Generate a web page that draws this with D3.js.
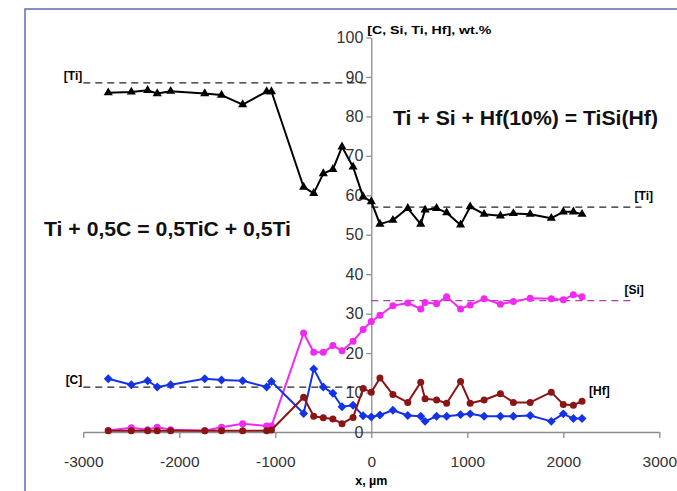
<!DOCTYPE html>
<html>
<head>
<meta charset="utf-8">
<script src="https://cdn.jsdelivr.net/npm/d3@7"></script>
<style>
  html, body { margin: 0; padding: 0; background: #fff; }
  svg { display: block; font-family: "Liberation Sans", Arial, sans-serif; }
</style>
</head>
<body>
<div id="chart"></div>
<script>
// положения точек по оси x, мкм (общие для всех кривых)
const xs = [-2740, -2500, -2330, -2230, -2090, -1735, -1560, -1340, -1090, -1040,
            -705, -600, -500, -400, -305, -190, -85, 0, 90, 225,
            380, 515, 560, 680, 785, 930, 1030, 1175, 1345, 1480,
            1655, 1875, 2000, 2105, 2195];

const tiValues = [86.0, 86.2, 86.6, 85.8, 86.4, 85.8, 85.4, 83.0, 86.3, 86.3,
                  62.1, 60.5, 65.5, 66.6, 72.3, 67.2, 59.6, 58.4, 52.7, 53.7,
                  56.7, 52.7, 56.3, 56.7, 55.6, 52.5, 57.1, 55.2, 54.8, 55.4,
                  55.2, 54.2, 55.8, 55.8, 55.2];

const siValues = [0.4, 1.1, 0.6, 1.2, 0.6, 0.3, 1.2, 2.1, 1.5, 1.5,
                  25.1, 20.2, 20.2, 21.9, 20.6, 23.0, 26.0, 28.0, 29.6, 32.0,
                  32.7, 31.2, 32.8, 32.5, 34.3, 31.2, 32.2, 33.8, 32.4, 33.1,
                  33.9, 33.8, 33.5, 34.8, 34.3];

const cValues = [13.5, 12.0, 13.0, 11.4, 12.0, 13.5, 13.2, 13.0, 11.4, 12.8,
                 4.7, 16.0, 11.4, 9.8, 6.4, 6.8, 4.1, 3.8, 4.3, 5.5,
                 4.2, 4.0, 2.7, 4.0, 4.0, 4.4, 4.6, 4.0, 4.0, 4.0,
                 4.2, 2.7, 4.6, 3.4, 3.4];

const hfValues = [0.3, 0.3, 0.3, 0.3, 0.3, 0.3, 0.3, 0.3, 0.3, 0.5,
                  8.8, 4.0, 3.6, 3.3, 2.1, 3.7, 11.0, 10.1, 13.7, 9.5,
                  7.5, 12.6, 8.4, 8.1, 7.3, 12.8, 7.3, 8.1, 9.7, 7.5,
                  7.5, 10.1, 7.0, 6.8, 7.8];

// уровни исходного состава (пунктир)
const refLines = [
  { label: "[Ti]", value: 88.5, from: -3000, to: 0, side: "left" },
  { label: "[C]", value: 11.4, from: -3000, to: 0, side: "left" },
  { label: "[Ti]", value: 57.0, from: 0, to: 2815, side: "right" },
  { label: "[Si]", value: 33.3, from: 0, to: 2710, side: "right" }
];

const xTicks = [-3000, -2000, -1000, 0, 1000, 2000, 3000];
const yTicks = [0, 10, 20, 30, 40, 50, 60, 70, 80, 90, 100];

const width = 677, height = 491;

const svg = d3.select("#chart").append("svg")
    .attr("width", width)
    .attr("height", height);

// рамка
svg.append("rect")
    .attr("x", 25).attr("y", 9)
    .attr("width", 700).attr("height", 520)
    .attr("fill", "none")
    .attr("stroke", "#5b6db2")
    .attr("stroke-width", 1.5);

const x = d3.scaleLinear().domain([-3000, 3000]).range([83.3, 659.3]);
const y = d3.scaleLinear().domain([0, 100]).range([432, 37.5]);

// ось x
const xAxis = svg.append("g")
    .attr("transform", `translate(0, ${y(0)})`)
    .call(d3.axisBottom(x).tickValues(xTicks).tickFormat(d => String(d))
        .tickSize(6).tickPadding(18).tickSizeOuter(0));
xAxis.select(".domain").attr("stroke", "#8c8c8c").attr("stroke-width", 1.3);
xAxis.selectAll(".tick line").attr("stroke", "#8c8c8c").attr("stroke-width", 1.3);
xAxis.selectAll(".tick text")
    .style("font-size", "15.5px")
    .attr("fill", "#333");

// ось y
const yAxis = svg.append("g")
    .attr("transform", `translate(${x(0)}, 0)`)
    .call(d3.axisLeft(y).tickValues(yTicks).tickSize(5).tickPadding(3).tickSizeOuter(0));
yAxis.select(".domain").attr("stroke", "#8c8c8c").attr("stroke-width", 1.3);
yAxis.selectAll(".tick line").attr("stroke", "#8c8c8c").attr("stroke-width", 1.3);
yAxis.selectAll(".tick text")
    .style("font-size", "16px")
    .attr("fill", "#333");

svg.append("text")
    .attr("x", x(0) - 4).attr("y", 34)
    .style("font-size", "11.5px").style("font-weight", "bold")
    .attr("textLength", 124).attr("lengthAdjust", "spacingAndGlyphs")
    .text("[C, Si, Ti, Hf], wt.%");

svg.append("text")
    .attr("x", x(0)).attr("y", 485)
    .attr("text-anchor", "middle")
    .style("font-size", "12.5px").style("font-weight", "bold")
    .text("x, \u00b5m");

// пунктирные уровни
refLines.forEach(r => {
    const color = r.label === "[Si]" ? "#b43cb4" : "#222";
    svg.append("line")
        .attr("x1", x(r.from)).attr("x2", x(r.to))
        .attr("y1", y(r.value)).attr("y2", y(r.value))
        .attr("stroke", color)
        .attr("stroke-width", 1.3)
        .attr("stroke-dasharray", "7,5");
    const t = svg.append("text")
        .style("font-size", "12px").style("font-weight", "bold")
        .text(r.label);
    if (r.side === "left") {
        t.attr("x", x(r.from) - 1).attr("y", y(r.value) - 3).attr("text-anchor", "end");
    } else {
        t.attr("x", x(r.to) - 7).attr("y", y(r.value) - 7);
    }
});

svg.append("text")
    .attr("x", x(2195) + 7).attr("y", y(9.3))
    .style("font-size", "12px").style("font-weight", "bold")
    .text("[Hf]");

// подписи реакций
svg.append("text")
    .attr("x", 393).attr("y", 125)
    .style("font-size", "20px").style("font-weight", "bold")
    .attr("fill", "#111")
    .attr("textLength", 265).attr("lengthAdjust", "spacingAndGlyphs")
    .text("Ti + Si + Hf(10%) = TiSi(Hf)");

svg.append("text")
    .attr("x", 44).attr("y", 236)
    .style("font-size", "20px").style("font-weight", "bold")
    .attr("fill", "#111")
    .attr("textLength", 247).attr("lengthAdjust", "spacingAndGlyphs")
    .text("Ti + 0,5C = 0,5TiC + 0,5Ti");

// кривые
const series = [
    { name: "Si", values: siValues, color: "#f02af0", marker: "circle" },
    { name: "C", values: cValues, color: "#1433e6", marker: "diamond" },
    { name: "Hf", values: hfValues, color: "#8b1414", marker: "circle" },
    { name: "Ti", values: tiValues, color: "#000", marker: "triangle" }
];

const line = d3.line()
    .x(d => x(d[0]))
    .y(d => y(d[1]));

series.forEach(s => {
    const pts = xs.map((v, i) => [v, s.values[i]]);
    svg.append("path")
        .datum(pts)
        .attr("fill", "none")
        .attr("stroke", s.color)
        .attr("stroke-width", 2)
        .attr("stroke-linejoin", "round")
        .attr("d", line);

    const g = svg.append("g").attr("fill", s.color);
    if (s.marker === "circle") {
        g.selectAll("circle").data(pts).enter().append("circle")
            .attr("cx", d => x(d[0])).attr("cy", d => y(d[1]))
            .attr("r", 3.5);
    } else if (s.marker === "diamond") {
        g.selectAll("path").data(pts).enter().append("path")
            .attr("d", d3.symbol(d3.symbolSquare, 40)())
            .attr("transform", d => `translate(${x(d[0])}, ${y(d[1])}) rotate(45)`);
    } else {
        g.selectAll("path").data(pts).enter().append("path")
            .attr("d", d3.symbol(d3.symbolTriangle, 36)())
            .attr("transform", d => `translate(${x(d[0])}, ${y(d[1])})`);
    }
});
</script>
</body>
</html>
